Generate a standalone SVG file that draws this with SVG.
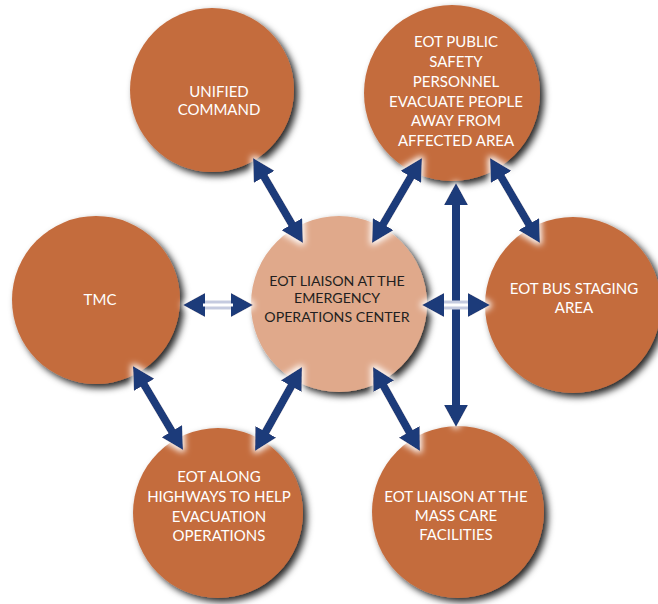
<svg xmlns="http://www.w3.org/2000/svg" width="658" height="604" viewBox="0 0 658 604">
<style>
.node{fill:#C46C3E;filter:url(#shadow)}
.hub{fill:#E0A98B;filter:url(#shadow)}
.lbl{font-family:"Lato","Liberation Sans",sans-serif;font-size:15px;fill:#FFFFFF;text-anchor:middle}
.lblc{font-family:"Lato","Liberation Sans",sans-serif;font-size:14.2px;fill:#231F20;text-anchor:middle}
.arr{stroke:#1F3B7A;stroke-width:8;fill:none;marker-start:url(#head);marker-end:url(#head)}
.lite{stroke:#C5CBE0;stroke-width:9;fill:none;marker-start:url(#head);marker-end:url(#head)}
.liteC{stroke:#FFFFFF;stroke-width:3;fill:none}
</style>
<defs>
<filter id="shadow" x="-20%" y="-20%" width="150%" height="150%">
<feDropShadow dx="4" dy="4" stdDeviation="3.5" flood-color="#000" flood-opacity="0.85"/>
</filter>
<filter id="glow" x="-30%" y="-30%" width="160%" height="160%">
<feMorphology in="SourceAlpha" operator="dilate" radius="2" result="d"/>
<feGaussianBlur in="d" stdDeviation="3" result="b"/>
<feFlood flood-color="#FFFFFF"/>
<feComposite in2="b" operator="in" result="w"/>
<feMerge><feMergeNode in="w"/><feMergeNode in="SourceGraphic"/></feMerge>
</filter>
<marker id="head" viewBox="0 0 22 24" markerWidth="22" markerHeight="24" refX="10" refY="12" orient="auto-start-reverse" markerUnits="userSpaceOnUse">
<path d="M0,0 L22,12 L0,24 Z" fill="#1F3B7A"/>
</marker>
</defs>
<rect width="658" height="604" fill="#FFFFFF"/>

<g id="unified-command">
<circle class="node" cx="212" cy="90" r="82"/>
<text class="lbl" x="219" y="97" font-size="14">UNIFIED</text>
<text class="lbl" x="219" y="115" font-size="14">COMMAND</text>
</g>
<g id="public-safety">
<circle class="node" cx="452" cy="93" r="88"/>
<text class="lbl" x="456" y="47">EOT PUBLIC</text>
<text class="lbl" x="456" y="67">SAFETY</text>
<text class="lbl" x="456" y="87">PERSONNEL</text>
<text class="lbl" x="456" y="107">EVACUATE PEOPLE</text>
<text class="lbl" x="456" y="126">AWAY FROM</text>
<text class="lbl" x="456" y="146">AFFECTED AREA</text>
</g>
<g id="tmc">
<circle class="node" cx="96" cy="300" r="84"/>
<text class="lbl" x="100" y="305" font-size="14.5">TMC</text>
</g>
<g id="eoc">
<circle class="hub" cx="339" cy="304" r="88"/>
<text class="lblc" x="337" y="286">EOT LIAISON AT THE</text>
<text class="lblc" x="337" y="303">EMERGENCY</text>
<text class="lblc" x="337" y="322">OPERATIONS CENTER</text>
</g>
<g id="bus-staging">
<circle class="node" cx="573" cy="305" r="88"/>
<text class="lbl" x="574" y="294" font-size="16">EOT BUS STAGING</text>
<text class="lbl" x="574" y="313" font-size="16">AREA</text>
</g>
<g id="highways">
<circle class="node" cx="218" cy="513" r="85"/>
<text class="lbl" x="219" y="482" font-size="15.5">EOT ALONG</text>
<text class="lbl" x="219" y="502" font-size="15.5">HIGHWAYS TO HELP</text>
<text class="lbl" x="219" y="522" font-size="15.5">EVACUATION</text>
<text class="lbl" x="219" y="541" font-size="15.5">OPERATIONS</text>
</g>
<g id="mass-care">
<circle class="node" cx="458" cy="512" r="86"/>
<text class="lbl" x="456" y="502" font-size="16">EOT LIAISON AT THE</text>
<text class="lbl" x="456" y="521" font-size="16">MASS CARE</text>
<text class="lbl" x="456" y="540" font-size="16">FACILITIES</text>
</g>

<g id="connectors" filter="url(#glow)">
<line class="arr" x1="259.1" y1="168.3" x2="296.9" y2="232.7"/>
<line class="arr" x1="415.9" y1="168.3" x2="378.1" y2="232.7"/>
<line class="arr" x1="456" y1="195" x2="456" y2="415"/>
<line class="arr" x1="496.1" y1="168.3" x2="533.9" y2="232.7"/>
<line class="arr" x1="139.1" y1="376.3" x2="176.9" y2="439.7"/>
<line class="arr" x1="296.1" y1="377.5" x2="260.9" y2="440.5"/>
<line class="arr" x1="378.9" y1="377.5" x2="414.1" y2="440.5"/>
<line class="lite" x1="195" y1="305" x2="241" y2="305"/>
<line class="liteC" x1="203" y1="305" x2="233" y2="305"/>
<line class="lite" x1="434" y1="305" x2="478" y2="305"/>
<line class="liteC" x1="444" y1="305" x2="468" y2="305"/>
</g>
</svg>
